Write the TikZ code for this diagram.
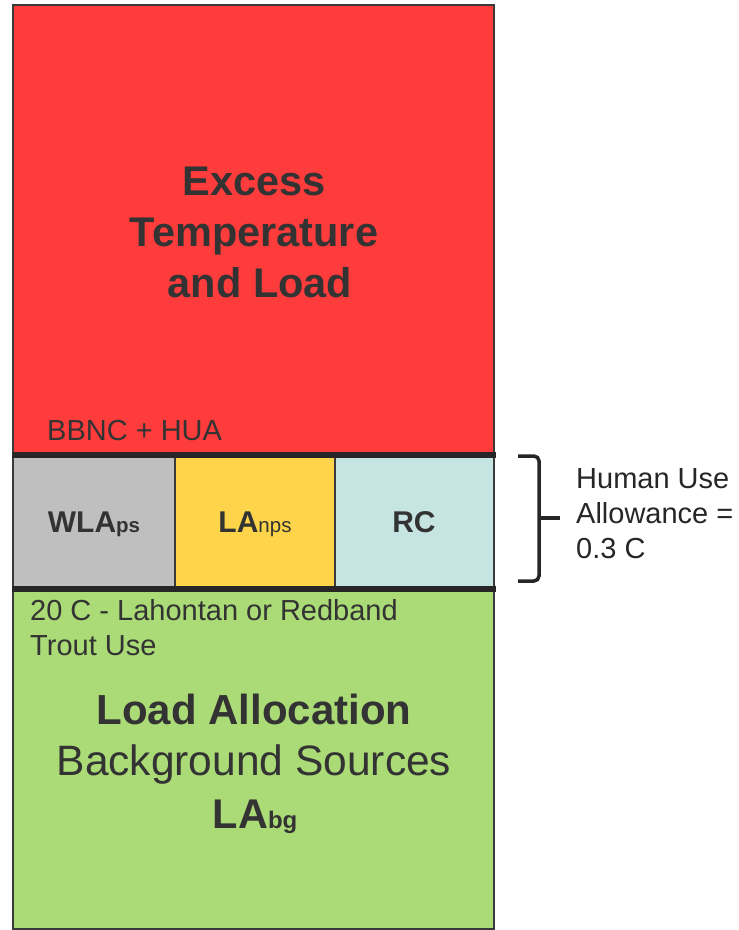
\documentclass[tikz,border=0pt]{standalone}
\usepackage{fontspec}
\setmainfont{Liberation Sans}
\definecolor{cred}{HTML}{FF3C3C}
\definecolor{cgray}{HTML}{BFBFBF}
\definecolor{cyel}{HTML}{FDD44A}
\definecolor{cblue}{HTML}{C6E4E2}
\definecolor{cgreen}{HTML}{AADB76}
\definecolor{ctext}{HTML}{333333}
\definecolor{cedge}{HTML}{3A3A3A}
\begin{document}
\begin{tikzpicture}[x=1pt,y=-1pt,
  box/.style={rectangle, draw=cedge, line width=1.5pt, inner sep=0pt, outer sep=0pt},
  sep/.style={line width=6pt, draw=black!85},
  txt/.style={anchor=base, inner sep=0pt, text=ctext},
  big/.style={font=\fontsize{41.5}{51}\selectfont\bfseries},
  mid/.style={font=\fontsize{30}{35}\selectfont\bfseries},
  small/.style={font=\fontsize{29}{35}\selectfont}]
\useasboundingbox (0,0) rectangle (739,930);
% boxes
\node[box, fill=cred, minimum width=481pt, minimum height=450pt] (red) at (253.5,230) {};
\node[box, fill=cgray, minimum width=162pt, minimum height=134pt] (gray) at (94,522) {};
\node[box, fill=cyel, minimum width=160pt, minimum height=134pt] (yel) at (255,522) {};
\node[box, fill=cblue, minimum width=159pt, minimum height=134pt] (blue) at (414.5,522) {};
\node[box, fill=cgreen, minimum width=481pt, minimum height=340pt] (green) at (253.5,759) {};
% separators
\coordinate (s1a) at (12,455); \coordinate (s1b) at (496,455);
\coordinate (s2a) at (12,589); \coordinate (s2b) at (496,589);
\draw[sep] (s1a) -- (s1b);
\draw[sep] (s2a) -- (s2b);
% red texts
\node[txt, big] (t1) at (254,195) {Excess};
\node[txt, big] (t2) at (254,246) {Temperature};
\node[txt, big] (t3) at (260,297) {and Load};
\node[txt, small, anchor=base west] (bbnc) at (47,440) {BBNC + HUA};
% middle texts
\node[txt, mid] (wla) at (94,532) {WLA{\fontsize{20.5}{24}\selectfont ps}};
\node[txt, mid] (lanps) at (255,532) {LA{\fontsize{20.5}{24}\selectfont\mdseries nps}};
\node[txt, mid] (rc) at (414,532) {RC};
% green texts
\node[txt, small, anchor=base west] (g1) at (30,620) {20 C - Lahontan or Redband};
\node[txt, small, anchor=base west] (g2) at (30,655) {Trout Use};
\node[txt, font=\fontsize{42}{51}\selectfont\bfseries] (la1) at (254,724) {Load Allocation};
\node[txt, font=\fontsize{42.5}{51}\selectfont] (la2) at (254,775) {Background Sources};
\node[txt, big] (la3) at (255,828) {LA{\fontsize{24}{28}\selectfont bg}};
% brace
\coordinate (b1) at (518,456);
\coordinate (b2) at (539,456);
\coordinate (bm) at (539,518);
\coordinate (bt) at (560,518);
\coordinate (b3) at (539,581);
\coordinate (b4) at (518,581);
\draw[line width=3.5pt, draw=black!85, rounded corners=5pt] (b1) -- (b2) -- (bm) -- (b3) -- (b4);
\draw[line width=3.5pt, draw=black!85, rounded corners=3pt] (bm) -- (bt);
% brace label
\node[txt, small, anchor=base west, text=black!85] (h1) at (576,488) {Human Use};
\node[txt, small, anchor=base west, text=black!85] (h2) at (576,523) {Allowance =};
\node[txt, small, anchor=base west, text=black!85] (h3) at (576,558) {0.3 C};
\end{tikzpicture}
\end{document}
